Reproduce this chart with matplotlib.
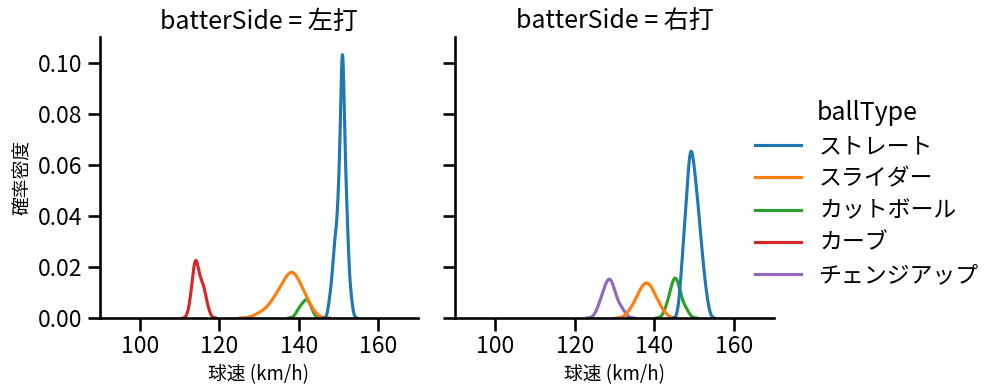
import numpy as np
import matplotlib
matplotlib.use("Agg")
import matplotlib.pyplot as plt
from matplotlib.lines import Line2D

plt.rcParams['font.family'] = ['Noto Sans CJK JP', 'DejaVu Sans']

# ---- data ----
sides = ["左打", "右打"]
ball_types = ["ストレート", "スライダー", "カットボール", "カーブ", "チェンジアップ"]
colors = ["#1f77b4", "#ff7f0e", "#2ca02c", "#d62728", "#9467bd"]

# pitch speeds (km/h) and how many pitches at each speed
left_straight_speed = [148, 149, 150, 151, 152, 153]
left_straight_count = [2, 6, 9, 24, 9, 2]
left_slider_speed = [130, 132, 133, 134, 135, 136, 137, 138, 139, 140, 141, 142, 143]
left_slider_count = [1, 1, 1, 2, 2, 3, 3, 5, 4, 3, 2, 2, 1]
left_cutter_speed = [140, 141, 142, 143]
left_cutter_count = [1, 1, 2, 1]
left_curve_speed = [113, 114, 115, 116, 117]
left_curve_count = [2, 6, 3, 3, 1]

right_straight_speed = [147, 148, 149, 150, 151, 152, 153]
right_straight_count = [5, 9, 15, 12, 9, 5, 2]
right_slider_speed = [134, 135, 136, 137, 138, 139, 140, 141, 142]
right_slider_count = [1, 1, 2, 3, 3, 3, 2, 1, 1]
right_cutter_speed = [143, 144, 145, 146, 147, 148]
right_cutter_count = [1, 2, 4, 3, 1, 1]
right_change_speed = [126, 127, 128, 129, 130, 131, 132]
right_change_count = [1, 2, 3, 4, 2, 1, 1]

data = {
    "左打": {
        "ストレート": np.repeat(left_straight_speed, left_straight_count),
        "スライダー": np.repeat(left_slider_speed, left_slider_count),
        "カットボール": np.repeat(left_cutter_speed, left_cutter_count),
        "カーブ": np.repeat(left_curve_speed, left_curve_count),
    },
    "右打": {
        "ストレート": np.repeat(right_straight_speed, right_straight_count),
        "スライダー": np.repeat(right_slider_speed, right_slider_count),
        "カットボール": np.repeat(right_cutter_speed, right_cutter_count),
        "チェンジアップ": np.repeat(right_change_speed, right_change_count),
    },
}
total = sum(len(v) for d in data.values() for v in d.values())


def kde(samples, total, gridsize=200, cut=3):
    x = np.asarray(samples, float)
    n = len(x)
    bw = x.std(ddof=1) * n ** (-1 / 5)
    grid = np.linspace(x.min() - cut * bw, x.max() + cut * bw, gridsize)
    dens = np.exp(-0.5 * ((grid[:, None] - x[None, :]) / bw) ** 2).sum(1) / (n * bw * np.sqrt(2 * np.pi))
    return grid, dens * n / total


fig = plt.figure(figsize=(9.99, 3.91), dpi=100)
ax1 = fig.add_axes([0.1001, 0.1867, 0.3183, 0.7187])
ax2 = fig.add_axes([0.4555, 0.1867, 0.3193, 0.7187], sharey=ax1)

for ax, side in zip([ax1, ax2], sides):
    for bt, col in reversed(list(zip(ball_types, colors))):
        if bt in data[side]:
            g, d = kde(data[side][bt], total)
            ax.plot(g, d, color=col, lw=2.25)
    ax.set_xlim(90, 170)
    ax.set_ylim(0, 0.1102)
    ax.set_xticks([100, 120, 140, 160])
    ax.set_yticks([0, 0.02, 0.04, 0.06, 0.08, 0.10])
    ax.set_title(f"batterSide = {side}", fontsize=18)
    ax.set_xlabel("球速 (km/h)", fontsize=13.5)
    for s in ["top", "right"]:
        ax.spines[s].set_visible(False)
    for s in ["left", "bottom"]:
        ax.spines[s].set_linewidth(1.875)
    ax.tick_params(labelsize=16.5, width=1.875, length=9)

ax1.yaxis.set_major_formatter(matplotlib.ticker.FormatStrFormatter('%.2f'))
ax1.set_ylabel("確率密度", fontsize=13.5)
ax2.tick_params(axis='y', labelleft=False)

handles = [Line2D([], [], color=c, lw=2.25) for c in colors]
leg = fig.legend(handles, ball_types, title="ballType", loc="center left",
                 bbox_to_anchor=(0.735, 0.505), frameon=False, fontsize=16.5,
                 title_fontsize=18, labelspacing=0.4)

fig.savefig("out.png", dpi=100)
